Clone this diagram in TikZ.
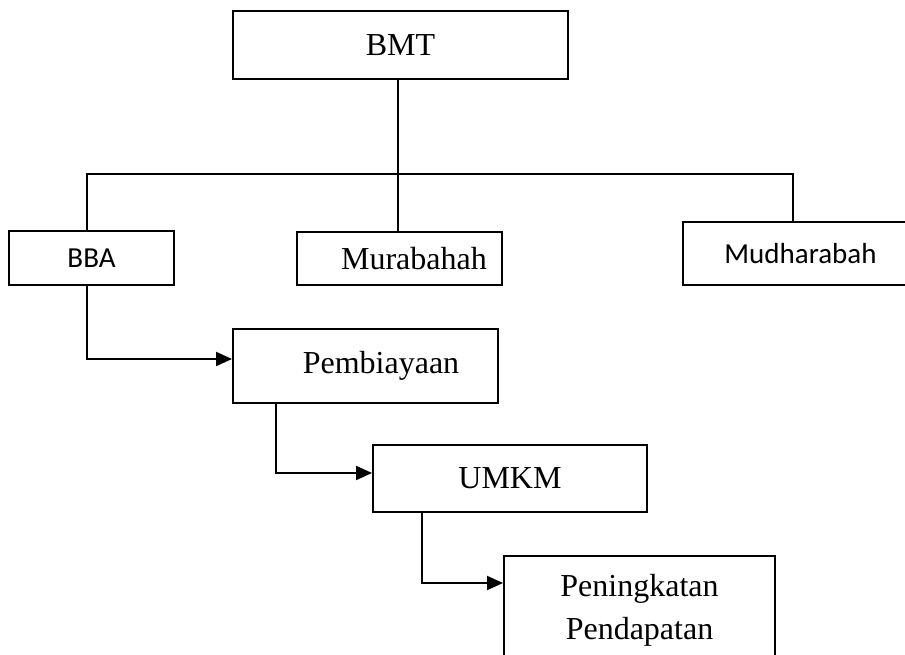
\documentclass[tikz,border=0pt]{standalone}
\usepackage{fontspec}
\setmainfont{Liberation Serif}
\newfontfamily\calfont{Carlito}
\usetikzlibrary{arrows.meta}
\begin{document}
\begin{tikzpicture}[x=1pt,y=-1pt,
  box/.style={draw,line width=1.9pt,inner sep=0pt,font=\fontsize{32}{43}\selectfont,align=center},
  calbox/.style={box,font=\calfont\fontsize{29}{35}\selectfont},
  conn/.style={line width=1.9pt},
  arr/.style={conn,-{Triangle[length=16pt,width=14pt]}}]
\useasboundingbox (0,0) rectangle (905,655);
\clip (0,0) rectangle (905,655);
\node[box,minimum width=335pt,minimum height=68pt] (bmt) at (400.5,45) {BMT};
\node[calbox,minimum width=165pt,minimum height=54pt] (bba) at (91.5,258) {BBA};
\node[box,minimum width=205pt,minimum height=53pt] (mur) at (399.5,258.5) {\hspace*{29pt}Murabahah};
\node[calbox,minimum width=235pt,minimum height=63pt] (mud) at (800.5,253.5) {Mudharabah};
\node[box,minimum width=265pt,minimum height=74pt] (pem) at (365.5,366) {\raisebox{4pt}{\hspace*{31pt}Pembiayaan}};
\node[box,minimum width=274pt,minimum height=67pt] (umkm) at (510,478.5) {UMKM};
\node[box,minimum width=271pt,minimum height=108pt,anchor=north] (pen) at (639.5,555) {Peningkatan\\Pendapatan};
\coordinate (bus) at (398,174);
\coordinate (ya) at (0,359);
\coordinate (yb) at (0,473);
\coordinate (yc) at (0,583);
\coordinate (xa) at (87,0);
\coordinate (xb) at (276,0);
\coordinate (xc) at (422,0);
\coordinate (xd) at (793,0);
\draw[conn] (bmt.south -| bus) -- (bus);
\draw[conn] (bba.north -| xa) |- (bus) -| (mud.north -| xd);
\draw[conn] (bus) -- (bus |- mur.north);
\draw[arr] (bba.south -| xa) |- (pem.west |- ya);
\draw[arr] (pem.south -| xb) |- (umkm.west |- yb);
\draw[arr] (umkm.south -| xc) |- (pen.west |- yc);
\end{tikzpicture}
\end{document}
